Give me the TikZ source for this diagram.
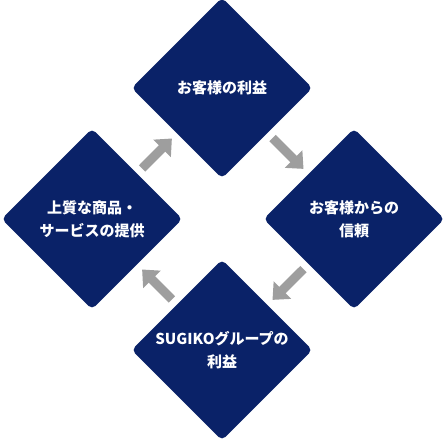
\documentclass[tikz,border=0pt]{standalone}
\usepackage{fontspec}
\setmainfont{Noto Sans CJK JP}
\usepackage{xcolor}
\usetikzlibrary{shapes.geometric,arrows.meta}

\definecolor{kon}{RGB}{10,34,104}
\definecolor{yajirushi}{RGB}{158,158,158}

\tikzset{
  hishi/.style={shape=diamond,fill=kon,draw=none,minimum width=181pt,minimum height=181pt,inner sep=0pt,rounded corners=5pt},
  moji/.style={text=white,align=center,font=\bfseries\fontsize{15}{23}\selectfont},
  yaji/.style={draw=yajirushi,line width=9pt,-{Triangle[length=14pt,width=24pt]},shorten <=7pt,shorten >=7pt}
}

\begin{document}
\begin{tikzpicture}[x=1pt,y=-1pt]
  \useasboundingbox (0,0) rectangle (446,439);
  % ひし形
  \node[hishi] (kyaku) at (222,88) {};
  \node[hishi] (shinrai) at (354,219) {};
  \node[hishi] (rieki) at (222,350) {};
  \node[hishi] (teikyo) at (92,219) {};
  % 文字
  \node[moji] at (kyaku) {お客様の利益};
  \node[moji] at (shinrai) {お客様からの\\信頼};
  \node[moji] at (rieki) {SUGIKOグループの\\利益};
  \node[moji] at (teikyo) {上質な商品・\\サービスの提供};
  % 矢印
  \foreach \a/\b in {kyaku/shinrai,shinrai/rieki,rieki/teikyo,teikyo/kyaku}
    \draw[yaji] (\a) -- (\b);
\end{tikzpicture}
\end{document}
